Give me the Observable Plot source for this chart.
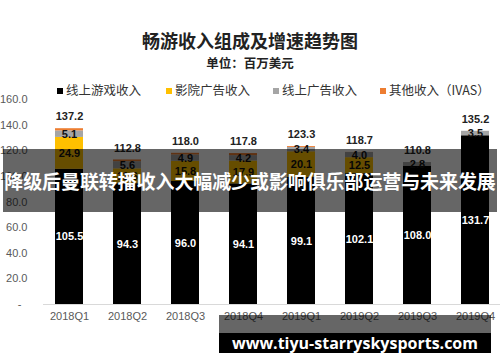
<!DOCTYPE html>
<html><head><meta charset="utf-8">
<script src="https://cdn.jsdelivr.net/npm/d3@7"></script>
<script src="https://cdn.jsdelivr.net/npm/@observablehq/plot@0.6"></script>
<style>
body{margin:0;background:#fff;}
#wrap{position:relative;width:500px;height:362px;overflow:hidden;background:#fff;font-family:"Liberation Sans",Arial,sans-serif;}
.abs{position:absolute;}
#title{left:0;width:500px;top:29px;text-align:center;font:bold 18px "Noto Sans CJK SC";color:#222;line-height:22px;}
#sub{left:0;width:500px;top:55px;text-align:center;font:bold 12.5px "Noto Sans CJK SC";color:#222;line-height:16px;}
#legend{left:0;top:82px;height:16px;width:500px;font:12.5px "Noto Sans CJK SC";color:#333;}
.li{position:absolute;top:0;line-height:16px;white-space:nowrap;}
.sw{display:inline-block;width:6px;height:6px;margin-right:3px;vertical-align:1px;}
#chart{left:0;top:92px;}
#band{left:3px;top:149px;width:494px;height:63px;background:rgba(0,0,0,0.6);color:#fff;font:bold 19px "Noto Sans CJK SC";line-height:63px;text-align:center;white-space:nowrap;letter-spacing:-0.1px;}
#wm1{left:219px;top:315px;width:272px;height:18px;background:rgba(0,0,0,0.6);}
#wm2{left:219px;top:333px;width:272px;height:20px;background:#000;color:#fff;font:bold 16px "Open Sans";line-height:20px;text-align:center;white-space:nowrap;}
</style></head>
<body><div id="wrap">
<div id="title" class="abs">畅游收入组成及增速趋势图</div>
<div id="sub" class="abs">单位：百万美元</div>
<div id="legend" class="abs"></div>
<div id="chart" class="abs"></div>
<div id="band" class="abs">降级后曼联转播收入大幅减少或影响俱乐部运营与未来发展</div>
<div id="wm1" class="abs"></div>
<div id="wm2" class="abs">www.tiyu-starryskysports.com</div>
</div>
<script>
const quarters = ["2018Q1","2018Q2","2018Q3","2018Q4","2019Q1","2019Q2","2019Q3","2019Q4"];
const seriesNames = ["线上游戏收入","影院广告收入","线上广告收入","其他收入（IVAS）"];
const seriesColors = ["#000000","#FFC000","#A5A5A5","#ED7D31"];
const onlineGames = [105.5, 94.3, 96.0, 94.1, 99.1, 102.1, 108.0, 131.7];
const cinemaAds   = [24.9, 11.6, 15.8, 17.9, 20.1, 12.5, 0, 0];
const onlineAds   = [5.1, 5.6, 4.9, 4.2, 3.4, 4.0, 2.8, 3.5];
const ivas        = [1.7, 1.3, 1.3, 1.6, 0.7, 0.1, 0, 0];
const totals      = [137.2, 112.8, 118.0, 117.8, 123.3, 118.7, 110.8, 135.2];
const yTicks = [0, 20, 40, 60, 80, 100, 120, 140, 160];

const seriesValues = [onlineGames, cinemaAds, onlineAds, ivas];
const data = [];
quarters.forEach((q, i) => {
  seriesValues.forEach((vals, s) => data.push({q, series: seriesNames[s], v: vals[i]}));
});
const totalData = quarters.map((q, i) => ({q, t: totals[i]}));

// legend
const leg = document.getElementById("legend");
const legX = [57, 166, 273, 380];
seriesNames.forEach((n, i) => {
  const d = document.createElement("div");
  d.className = "li";
  d.style.left = legX[i] + "px";
  d.innerHTML = `<span class="sw" style="background:${seriesColors[i]}"></span>${n}`;
  leg.appendChild(d);
});

const chart = Plot.plot({
  width: 500, height: 270,
  marginLeft: 43, marginRight: 0, marginTop: 7, marginBottom: 58,
  style: {fontFamily: "Liberation Sans, Arial, sans-serif", fontSize: "11px", color: "#595959", background: "transparent"},
  x: {domain: quarters, paddingInner: 0.52, paddingOuter: 0.186, label: null, tickSize: 0, tickPadding: 8},
  y: {domain: [0, 160], ticks: yTicks, label: null, tickSize: 0, tickPadding: 16,
      tickFormat: d => d === 0 ? "-\u00a0\u00a0" : d.toFixed(1)},
  color: {domain: seriesNames, range: seriesColors},
  marks: [
    Plot.ruleY([0], {stroke: "#d9d9d9", strokeWidth: 1}),
    Plot.barY(data, {x: "q", y: "v", fill: "series"}),
    Plot.text(data, Plot.stackY({x: "q", y: "v", text: d => d.series === seriesNames[0] ? d.v.toFixed(1) : "",
      fill: "white", fontSize: 11, fontWeight: "bold"})),
    Plot.text(data, Plot.stackY({x: "q", y: "v", text: d => (d.series === seriesNames[1] || d.series === seriesNames[2]) && d.v > 0 ? d.v.toFixed(1) : "",
      fill: "#111", fontSize: 11, fontWeight: "bold"})),
    Plot.text(totalData, {x: "q", y: "t", text: d => d.t.toFixed(1), dy: -12, fill: "#222", fontSize: 11, fontWeight: "bold"})
  ]
});
document.getElementById("chart").appendChild(chart);
</script>
</body></html>
